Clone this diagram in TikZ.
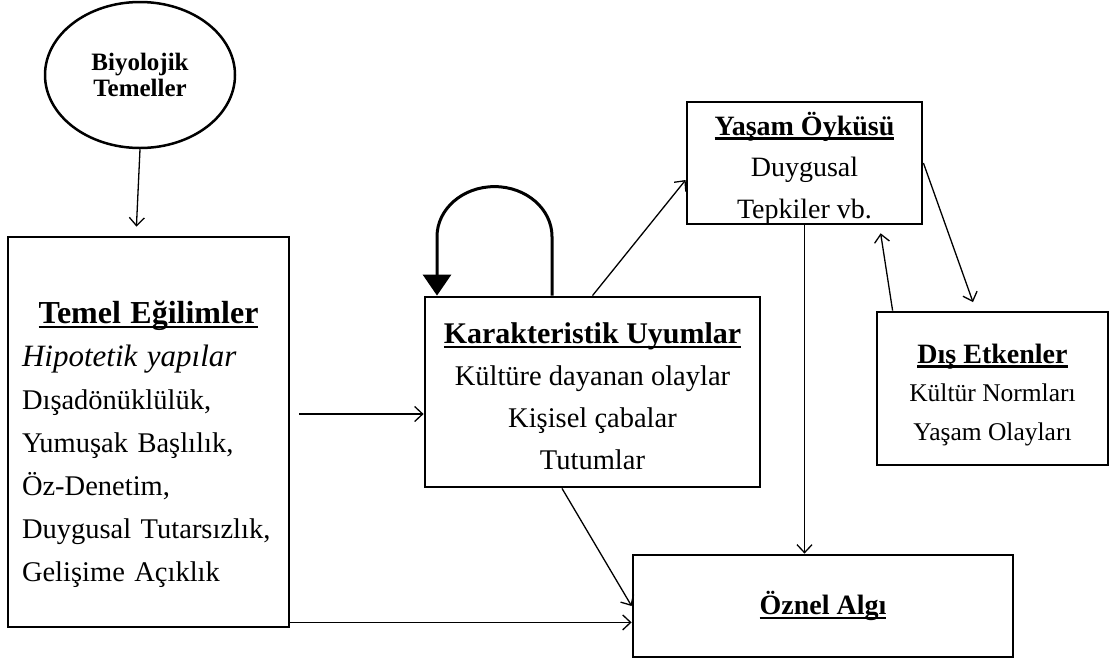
\documentclass[tikz,border=0pt]{standalone}
\usepackage{fontspec}
\setmainfont{Liberation Serif}
\usetikzlibrary{shapes.geometric,arrows.meta}

% bold underlined heading of a box
\newcommand{\baslik}[2][28]{{\fontsize{#1}{42}\selectfont\bfseries\setbox0\hbox{#2}\rlap{\rule[-4.5pt]{\wd0}{2.3pt}}\box0}}

\begin{document}
\begin{tikzpicture}[x=1pt, y=-1pt,
    box/.style ={rectangle, draw, line width=2.8pt, inner sep=0pt},
    link/.style ={-{Straight Barb[length=8pt,width=15pt]}, line width=1.3pt},
    selfloop/.style ={-{Triangle[length=21pt,width=28pt]}, line width=3pt}]
   \useasboundingbox (0,0) rectangle (1110,662);

   \node[ellipse, draw, line width=2.5pt, minimum width=190pt, minimum height=146pt,
     align=center, font=\fontsize{25}{26}\selectfont\bfseries] (bio) at (140,75) {Biyolojik\\Temeller};

   \node[box, text width=253pt, inner xsep=14pt, minimum height=390pt, align=left,
     font=\fontsize{28.5}{43}\selectfont] (temel) at (148.5,432)
     {\rule{0pt}{47pt}\makebox[253pt]{\baslik[32]{Temel Eğilimler}}\\
      {\fontsize{31}{43}\selectfont\itshape Hipotetik yapılar}\\
      Dışadönüklülük,\\
      Yumuşak Başlılık,\\
      Öz-Denetim,\\
      Duygusal Tutarsızlık,\\
      Gelişime Açıklık};

   \node[box, minimum width=335pt, minimum height=190pt, align=center,
     font=\fontsize{28.5}{42}\selectfont] (karak) at (592.5,392)
     {\rule{0pt}{29pt}\baslik[30]{Karakteristik Uyumlar}\\
      Kültüre dayanan olaylar\\
      Kişisel çabalar\\
      Tutumlar};

   \node[box, minimum width=235pt, minimum height=118pt, align=center,
     font=\fontsize{28}{41.5}\selectfont] (yasam) at (804.5,163)
     {\rule{0pt}{33pt}\baslik{Yaşam Öyküsü}\\
      Duygusal\\
      Tepkiler vb.};

   \node[box, minimum width=231pt, minimum height=153pt, align=center,
     font=\fontsize{25.5}{38.5}\selectfont] (dis) at (992.5,388.5)
     {\rule{0pt}{32pt}\baslik{Dış Etkenler}\\
      Kültür Normları\\
      Yaşam Olayları};

   \node[box, minimum width=380pt, minimum height=102pt, align=center] (oznel) at (823,606)
     {\rule{0pt}{24pt}\baslik{Öznel Algı}};

   \draw[link, shorten >=9pt] (bio.south) -- ([xshift=-12.5pt]temel.north);
   \draw[link, shorten <=9pt] ([yshift=18pt]temel.east) -- ([yshift=18pt]temel.east -| karak.west);
   \draw[link] ([yshift=6pt]temel.south east) -- ([yshift=6pt]temel.south east -| oznel.west);
   \draw[link] ([xshift=-30.5pt]karak.south) -- (oznel.west);
   \draw[link] (karak.north) -- ([yshift=-17pt]yasam.west);
   \draw[link] (yasam.south) -- (yasam.south |- oznel.north);
   \draw[link, shorten >=9pt] (yasam.east) -- ([xshift=-16.5pt]dis.north);
   \draw[link, shorten >=8pt] ([xshift=17pt]dis.north west) -- ([xshift=-44pt]yasam.south east);
   \draw[selfloop] ([xshift=-40.5pt]karak.north) -- ++(0,-59)
     arc[start angle=0, end angle=180, x radius=57.5pt, y radius=50pt]
     -- ([xshift=-155.5pt]karak.north);
 \end{tikzpicture}
\end{document}
